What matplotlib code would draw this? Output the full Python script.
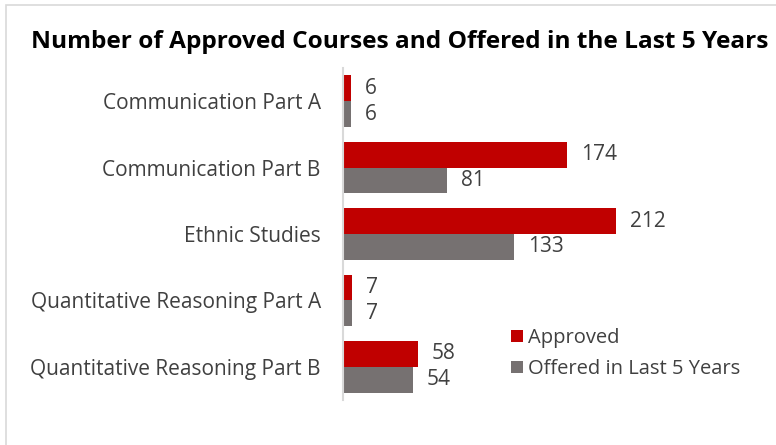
import matplotlib.pyplot as plt
from matplotlib.patches import Rectangle
import numpy as np

categories = ['Communication Part A', 'Communication Part B', 'Ethnic Studies',
              'Quantitative Reasoning Part A', 'Quantitative Reasoning Part B']
approved = [6, 174, 212, 7, 58]
offered = [6, 81, 133, 7, 54]

RED = '#C00000'
GRAY = '#767171'
TXT = '#404040'

plt.rcParams['font.family'] = ['Open Sans', 'DejaVu Sans']

fig = plt.figure(figsize=(7.76, 4.45), dpi=100)
ax = fig.add_axes([343 / 776, 1 - 400 / 445, 417 / 776, 332 / 445])

y = np.arange(len(categories))
h = 0.39
ax.barh(y - h / 2, approved, height=h, color=RED, label='Approved')
ax.barh(y + h / 2, offered, height=h, color=GRAY, label='Offered in Last 5 Years')

for yi, a, o in zip(y, approved, offered):
    ax.annotate(str(a), (a, yi - h / 2), xytext=(10, 0), textcoords='offset points',
                va='center', ha='left', fontsize=15, color=TXT)
    ax.annotate(str(o), (o, yi + h / 2), xytext=(10, 0), textcoords='offset points',
                va='center', ha='left', fontsize=15, color=TXT)

ax.set_xlim(0, 417 / 1.288)
ax.set_ylim(4.5, -0.5)
ax.set_yticks(y)
ax.set_yticklabels(categories, fontsize=15, color=TXT)
ax.tick_params(axis='y', length=0, pad=16)
ax.set_xticks([])
for s in ['top', 'right', 'bottom']:
    ax.spines[s].set_visible(False)
ax.spines['left'].set_color('#D9D9D9')
ax.spines['left'].set_linewidth(1.5)

ax.legend(loc='upper left', bbox_to_anchor=((501 - 343) / 417, (400 - 318) / 332),
          frameon=False, fontsize=14.5, labelcolor=TXT, handlelength=0.6,
          handleheight=0.6, handletextpad=0.25, labelspacing=0.55, borderpad=0)

fig.text(400 / 776, 1 - 42 / 445, 'Number of Approved Courses and Offered in the Last 5 Years',
         ha='center', va='center', fontsize=17.6, fontweight='bold', color='black')

fig.patches.append(Rectangle((6 / 776, -0.1), 1.2, 1 - 5 / 445 + 0.1, transform=fig.transFigure,
                             fill=False, edgecolor='#D9D9D9', linewidth=1.2))

fig.savefig('out.png', dpi=100)
